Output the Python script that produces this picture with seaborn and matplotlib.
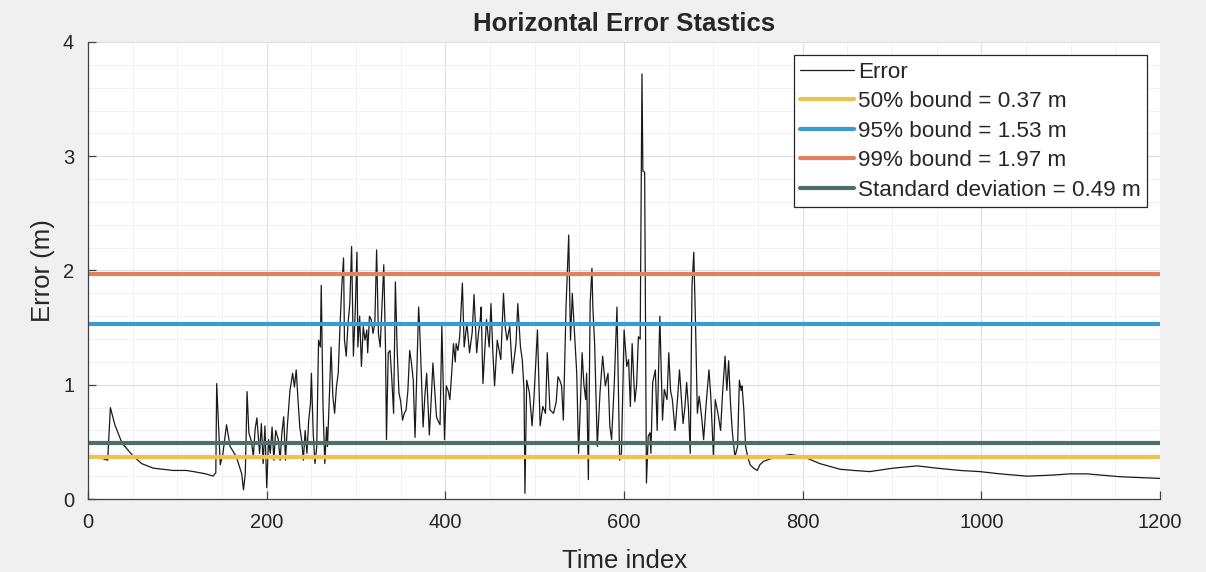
import matplotlib
matplotlib.use('Agg')
import matplotlib.pyplot as plt
from matplotlib.ticker import MultipleLocator
import seaborn as sns

# Error curve (time index, error in m)
idx = [0, 10, 22, 25, 30, 38, 50, 60, 73, 95, 110, 118, 125, 132, 140, 143, 144, 148, 151, 155,
       159, 166, 172, 174, 176, 178, 180, 183, 185, 187, 189, 192, 194, 196, 198, 200, 202, 204, 206, 208,
       210, 213, 215, 217, 219, 221, 223, 226, 229, 231, 233, 235, 237, 239, 241, 243, 245, 247, 249, 250,
       252, 254, 256, 258, 260, 261, 263, 265, 267, 268, 270, 272, 274, 276, 278, 280, 282, 284, 286, 287,
       289, 291, 293, 295, 297, 299, 301, 302, 304, 306, 308, 310, 312, 313, 315, 317, 319, 321, 323, 325,
       327, 329, 331, 333, 334, 336, 338, 340, 342, 344, 346, 348, 350, 352, 354, 356, 358, 360, 362, 364,
       366, 368, 370, 371, 373, 375, 377, 379, 382, 384, 386, 388, 390, 392, 394, 396, 399, 401, 403, 405,
       407, 409, 411, 412, 414, 416, 419, 421, 424, 427, 430, 432, 435, 437, 439, 440, 442, 446, 449, 451,
       453, 455, 458, 462, 465, 467, 469, 472, 475, 479, 481, 484, 486, 488, 489, 491, 494, 497, 499, 503,
       506, 509, 512, 514, 517, 521, 524, 526, 528, 530, 532, 535, 538, 540, 542, 545, 547, 549, 551, 553,
       555, 557, 558, 560, 562, 564, 565, 567, 570, 573, 576, 579, 582, 584, 586, 589, 592, 595, 597, 600,
       603, 605, 607, 609, 612, 614, 616, 618, 620, 621, 623, 625, 627, 629, 630, 632, 635, 637, 640, 643,
       645, 648, 650, 652, 654, 657, 660, 662, 664, 666, 668, 670, 672, 674, 676, 678, 680, 682, 684, 685,
       687, 689, 692, 695, 697, 700, 702, 705, 708, 710, 713, 715, 717, 719, 721, 724, 727, 729, 731, 732,
       734, 736, 738, 741, 745, 749, 752, 756, 767, 786, 801, 819, 842, 857, 875, 901, 928, 950, 976, 998,
       1021, 1051, 1081, 1099, 1118, 1155, 1200]
err = [0.38, 0.37, 0.34, 0.80, 0.65, 0.49, 0.38, 0.31, 0.27, 0.25, 0.25, 0.24, 0.23, 0.22, 0.20, 0.23, 1.01, 0.30, 0.40, 0.65,
       0.46, 0.37, 0.22, 0.08, 0.22, 0.94, 0.58, 0.50, 0.37, 0.61, 0.71, 0.40, 0.66, 0.31, 0.64, 0.10, 0.52, 0.40, 0.63, 0.34,
       0.60, 0.52, 0.34, 0.58, 0.72, 0.34, 0.63, 0.95, 1.10, 0.98, 1.13, 0.87, 0.63, 0.52, 0.34, 0.60, 0.40, 0.69, 0.84, 1.10,
       0.58, 0.31, 0.46, 1.39, 1.33, 1.87, 0.81, 0.31, 0.63, 0.46, 0.87, 1.33, 0.90, 0.75, 0.98, 1.10, 1.51, 1.86, 2.11, 1.39,
       1.25, 1.54, 1.71, 2.21, 1.25, 1.63, 2.16, 1.33, 1.60, 1.16, 1.51, 1.39, 1.48, 1.28, 1.60, 1.57, 1.45, 1.54, 2.18, 1.45,
       1.33, 1.68, 2.05, 1.30, 0.52, 1.28, 1.30, 1.05, 0.75, 1.90, 1.30, 0.93, 0.85, 0.69, 0.75, 0.78, 0.95, 1.30, 1.19, 1.04,
       0.54, 1.10, 1.68, 1.54, 1.10, 0.63, 0.90, 1.10, 0.56, 0.85, 1.19, 0.95, 0.72, 0.68, 0.65, 1.52, 0.52, 0.99, 0.95, 0.87,
       1.10, 1.36, 1.20, 1.36, 1.30, 1.42, 1.89, 1.33, 1.54, 1.28, 1.46, 1.79, 1.28, 1.45, 1.57, 1.68, 1.01, 1.57, 1.33, 1.71,
       1.30, 0.99, 1.39, 1.22, 1.80, 1.50, 1.39, 1.51, 1.10, 1.36, 1.71, 1.33, 1.22, 0.96, 0.05, 1.04, 0.93, 0.64, 0.87, 1.48,
       0.64, 0.81, 0.75, 1.28, 0.78, 0.75, 0.85, 1.07, 1.04, 0.99, 0.69, 1.68, 2.31, 1.39, 1.80, 1.39, 1.10, 0.40, 0.81, 1.28,
       1.00, 0.87, 1.10, 0.17, 1.71, 2.02, 1.68, 1.36, 0.46, 0.93, 1.25, 0.99, 1.10, 0.64, 0.52, 1.01, 1.68, 0.34, 0.40, 1.48,
       1.16, 1.22, 0.81, 1.36, 0.85, 1.00, 1.42, 1.40, 3.72, 2.87, 2.86, 0.14, 0.55, 0.58, 0.40, 1.02, 1.13, 0.60, 1.60, 0.69,
       0.96, 0.87, 1.28, 0.95, 0.87, 0.60, 0.90, 1.13, 0.90, 0.66, 0.80, 1.02, 0.80, 0.40, 1.86, 2.16, 1.51, 0.75, 0.90, 0.84,
       0.70, 0.52, 0.85, 1.13, 0.90, 0.37, 0.87, 0.75, 0.60, 0.90, 1.25, 0.95, 1.21, 0.85, 0.60, 0.37, 0.46, 1.04, 0.95, 0.99,
       0.78, 0.46, 0.38, 0.30, 0.27, 0.25, 0.30, 0.33, 0.36, 0.39, 0.37, 0.31, 0.26, 0.25, 0.24, 0.27, 0.29, 0.27, 0.25, 0.24,
       0.22, 0.20, 0.21, 0.22, 0.22, 0.195, 0.18]

# Statistic lines
boundLabels = ['50% bound = 0.37 m', '95% bound = 1.53 m', '99% bound = 1.97 m', 'Standard deviation = 0.49 m']
boundValues = [0.37, 1.53, 1.97, 0.49]
boundColors = ['#EFC24E', '#3A9AD6', '#E5805C', '#4E6E6E']

sns.set_theme(style='white')
plt.rcParams['font.family'] = ['Liberation Sans', 'DejaVu Sans']

fig = plt.figure(figsize=(12.06, 5.72), dpi=100, facecolor='#f0f0f0')
ax = fig.add_axes([0.073, 0.1276, 0.889, 0.799])
ax.set_facecolor('white')

sns.lineplot(x=idx, y=err, ax=ax, color='#1a1a1a', linewidth=0.9, label='Error', sort=False)
for lab, val, col in zip(boundLabels, boundValues, boundColors):
    ax.axhline(val, color=col, linewidth=3, label=lab)

ax.set_xlim(0, 1200)
ax.set_ylim(0, 4)
ax.xaxis.set_major_locator(MultipleLocator(200))
ax.xaxis.set_minor_locator(MultipleLocator(50))
ax.yaxis.set_major_locator(MultipleLocator(1))
ax.yaxis.set_minor_locator(MultipleLocator(0.2))
ax.grid(which='major', color='#dedede', linewidth=0.8)
ax.grid(which='minor', color='#efefef', linewidth=0.6)
ax.set_axisbelow(True)
ax.tick_params(which='major', direction='in', length=6, width=0.9, color='#404040',
               labelsize=14.5, labelcolor='#262626', bottom=True, left=True, pad=10)
ax.tick_params(which='minor', length=0)

for side in ['top', 'right']:
    ax.spines[side].set_visible(False)
for side in ['left', 'bottom']:
    ax.spines[side].set_color('#404040')
    ax.spines[side].set_linewidth(0.9)

ax.set_title('Horizontal Error Stastics', fontsize=18.5, fontweight='bold', pad=8)
ax.set_xlabel('Time index', fontsize=18.5, color='#262626', labelpad=12)
ax.set_ylabel('Error (m)', fontsize=18.5, color='#262626', labelpad=6)

leg = ax.legend(loc='upper right', bbox_to_anchor=(0.988, 0.972), fontsize=16.2, frameon=True,
                fancybox=False, framealpha=1, edgecolor='#262626', handlelength=2.4,
                handletextpad=0.15, borderpad=0.3, labelspacing=0.38, borderaxespad=0)
leg.get_frame().set_linewidth(0.9)

fig.savefig('out.png', dpi=100, facecolor=fig.get_facecolor())
